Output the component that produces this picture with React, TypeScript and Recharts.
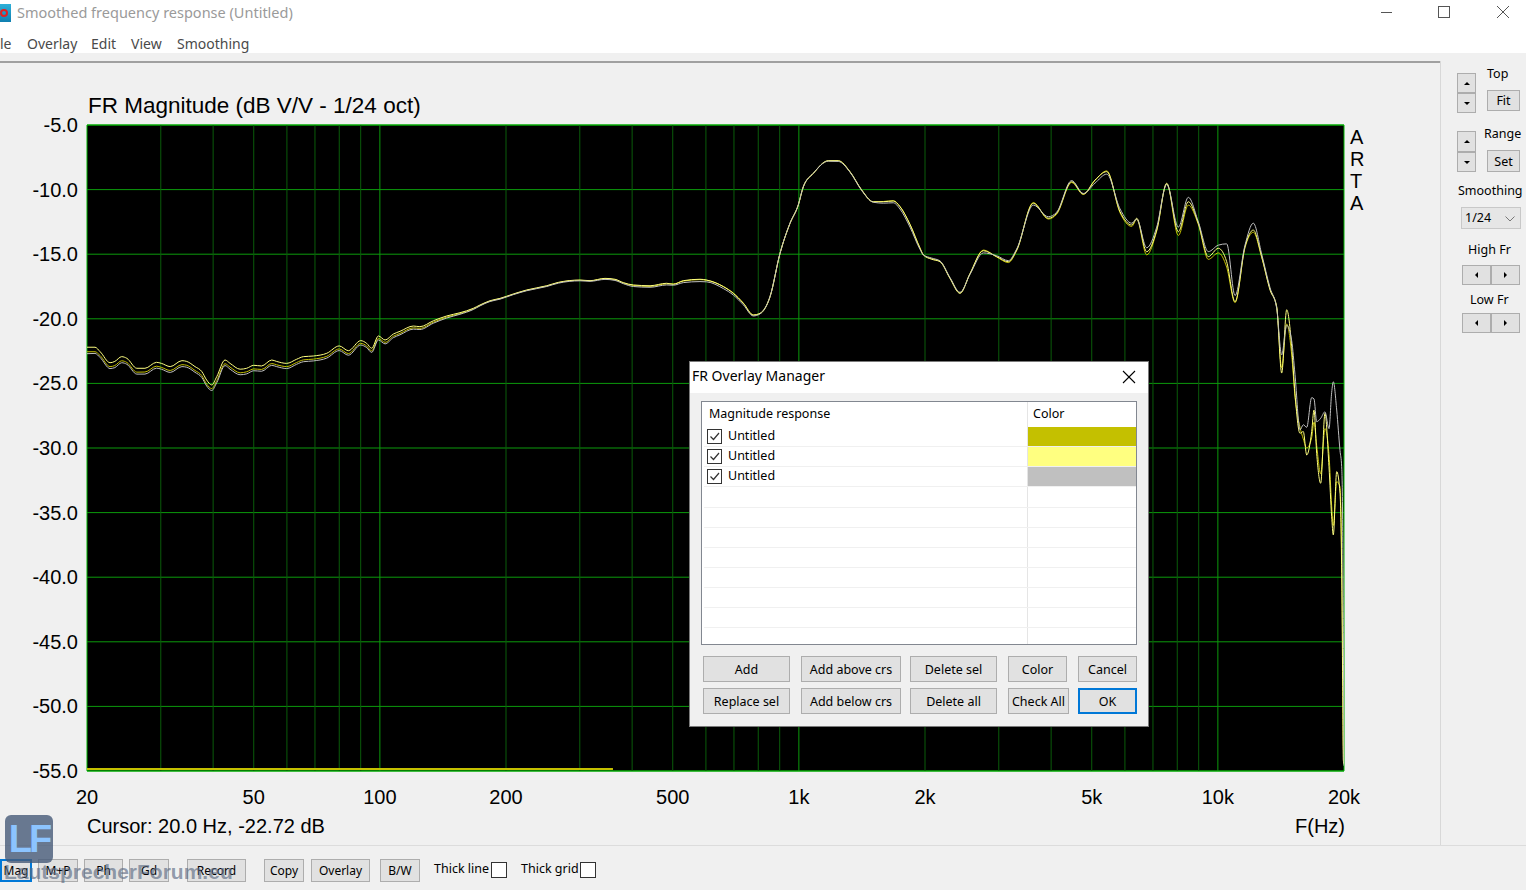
import React from "react";
import {
  LineChart,
  Line,
  XAxis,
  YAxis,
  CartesianGrid,
  ReferenceLine,
  ReferenceArea,
} from "recharts";

// frequencies (Hz)
const freqs = [
  20, 20.9, 21.5, 22.7, 23.3, 24.2, 24.9, 26.3, 27.5, 29.3, 30.1, 31.6, 33.7,
  34.6, 36.2, 37.6, 38.6, 39.7, 40.8, 42.7, 43.9, 46.4, 48.1, 50, 52.2, 55.2,
  56.7, 59.9, 63.3, 65.7, 69.4, 74.7, 80, 84.1, 90, 93, 95.6, 99.2, 102.9,
  107.7, 111.7, 120.2, 124.6, 134.2, 144.4, 155.3, 167.1, 173.4, 183.2, 193.5,
  208.2, 224, 250.2, 266.7, 300.4, 317.4, 344.6, 364, 381, 402.6, 441.4, 483.6,
  501.6, 530, 580.8, 602.6, 660.4, 697.4, 737, 778.6, 807.8, 853.2, 901.6,
  952.4, 996.8, 1024.6, 1082.6, 1175.4, 1242, 1324.4, 1412.6, 1505.4, 1590.4,
  1680, 1742.8, 1841.6, 1945.6, 1981.6, 2075, 2172, 2294, 2424, 2562, 2756,
  2966, 3162, 3310, 3628, 3938, 4124, 4478, 4774, 5090, 5430, 5842, 6228, 6402,
  6764, 7146, 7550, 8048, 8502, 8982, 9490, 10024, 10496, 10990, 11608, 12150,
  12724, 13320, 13816, 14200, 14597, 15004, 15277, 15704, 15992, 16294, 16746,
  16960, 17212, 17596, 18014, 18416, 18690, 18858, 19214, 19566, 19748, 19858,
  19925, 20000,
];

// overlay 1 (olive)
const oliveTrace = [
  -22.55, -22.55, -22.85, -23.7, -23.62, -23.25, -23.38, -24.13, -24.12, -23.67,
  -23.76, -24.0, -23.55, -23.6, -24.0, -24.4, -25.05, -25.4, -24.78, -23.48,
  -23.74, -24.18, -24.1, -23.88, -23.92, -23.46, -23.56, -23.7, -23.38, -23.18,
  -23.12, -22.9, -22.33, -22.69, -21.9, -22.1, -22.48, -21.52, -21.82, -21.35,
  -21.13, -20.7, -20.74, -20.26, -19.87, -19.6, -19.24, -18.97, -18.63, -18.45,
  -18.1, -17.8, -17.47, -17.2, -17.02, -17.06, -16.9, -16.98, -17.23, -17.42,
  -17.5, -17.3, -17.3, -17.08, -16.97, -17.02, -17.5, -18.0, -18.78, -19.7,
  -19.6, -18.32, -14.95, -12.63, -11.2, -9.8, -8.76, -7.78, -7.78, -8.63,
  -10.05, -10.95, -10.92, -10.86, -11.3, -12.68, -14.5, -15.03, -15.36, -15.55,
  -16.84, -18.0, -16.52, -14.68, -15.22, -15.65, -14.72, -11.0, -12.28, -11.9,
  -9.45, -10.38, -9.3, -8.55, -11.8, -12.85, -12.3, -15.05, -13.2, -9.55,
  -13.55, -11.2, -12.7, -15.4, -14.9, -16.0, -18.75, -14.5, -13.3, -15.25,
  -17.7, -19.1, -23.8, -20.4, -22.8, -26.0, -28.4, -29.3, -30.0, -29.2, -28.0,
  -29.8, -32.0, -28.5, -30.5, -34.5, -36.0, -32.6, -33.0, -38.5, -46.0, -53.0,
  -54.2,
];

// overlay 2 (light yellow)
const lightTrace = [
  -22.2, -22.2, -22.55, -23.4, -23.3, -22.93, -23.06, -23.83, -23.83, -23.37,
  -23.45, -23.7, -23.24, -23.3, -23.7, -24.09, -24.74, -25.12, -24.48, -23.19,
  -23.45, -23.9, -23.83, -23.6, -23.65, -23.19, -23.3, -23.45, -23.13, -22.93,
  -22.88, -22.67, -22.1, -22.47, -21.69, -21.9, -22.28, -21.33, -21.64, -21.18,
  -20.97, -20.56, -20.61, -20.15, -19.78, -19.53, -19.19, -18.93, -18.6, -18.42,
  -18.08, -17.77, -17.44, -17.18, -17.0, -17.05, -16.87, -16.94, -17.2, -17.38,
  -17.44, -17.25, -17.33, -17.05, -16.94, -17.0, -17.51, -18.03, -18.8, -19.71,
  -19.57, -18.29, -14.93, -12.61, -11.19, -9.78, -8.74, -7.76, -7.76, -8.61,
  -10.03, -10.94, -10.94, -10.88, -11.32, -12.7, -14.54, -15.06, -15.39,
  -15.58, -16.87, -18.03, -16.48, -14.73, -15.19, -15.58, -14.67, -11.06,
  -12.22, -11.83, -9.39, -10.34, -9.26, -8.61, -11.71, -12.74, -12.22, -14.81,
  -13.13, -9.51, -13.26, -10.94, -12.61, -15.19, -14.54, -15.58, -18.68,
  -14.42, -13.13, -15.19, -17.77, -19.06, -24.2, -19.3, -22.16, -25.8, -28.86,
  -28.73, -30.54, -28.73, -27.06, -30.41, -32.73, -27.32, -31.45, -35.32,
  -36.73, -31.83, -33.5, -39.7, -48.47, -54.15, -54.5,
];

// overlay 3 (grey)
const grayTrace = [
  -22.7, -22.68, -23.0, -23.85, -23.78, -23.4, -23.52, -24.28, -24.28, -23.82,
  -23.9, -24.15, -23.7, -23.75, -24.14, -24.55, -25.2, -25.55, -24.95, -23.62,
  -23.9, -24.33, -24.26, -24.02, -24.06, -23.6, -23.7, -23.85, -23.52, -23.32,
  -23.26, -23.04, -22.46, -22.82, -22.03, -22.23, -22.6, -21.64, -21.94, -21.46,
  -21.24, -20.8, -20.83, -20.34, -19.94, -19.65, -19.28, -19.0, -18.66, -18.48,
  -18.13, -17.83, -17.5, -17.24, -17.06, -17.1, -16.95, -17.03, -17.28, -17.5,
  -17.56, -17.38, -17.4, -17.2, -17.12, -17.14, -17.66, -18.16, -18.92, -19.78,
  -19.62, -18.3, -14.93, -12.6, -11.18, -9.78, -8.74, -7.8, -7.82, -8.65,
  -10.08, -10.98, -11.05, -11.02, -11.5, -12.9, -14.62, -15.05, -15.3, -15.52,
  -16.8, -17.95, -16.55, -14.9, -15.12, -15.5, -14.6, -11.2, -12.1, -11.75,
  -9.3, -10.3, -9.5, -8.8, -11.5, -12.6, -12.3, -14.5, -12.9, -9.6, -12.9,
  -10.6, -12.5, -14.8, -14.3, -14.2, -18.2, -14.3, -12.6, -15.0, -17.6, -19.2,
  -22.8, -20.5, -21.7, -24.3, -28.6, -28.2, -28.4, -26.1, -26.2, -27.96, -27.7,
  -27.2, -28.5, -25.7, -24.87, -27.06, -30.2, -31.45, -36.1, -44.3, -54.6,
];

// flat olive segment resting on the bottom of the plot
const floorFreqs = [20, 360];
const floorLevels = [-54.85, -54.85];

const xTicks = [20, 50, 100, 200, 500, 1000, 2000, 5000, 10000, 20000];
const xTickLabels = ["20", "50", "100", "200", "500", "1k", "2k", "5k", "10k", "20k"];
const yTicks = [-55, -50, -45, -40, -35, -30, -25, -20, -15, -10, -5];
const minorGrid = [
  30, 40, 50, 60, 70, 80, 90, 200, 300, 400, 500, 600, 700, 800, 900, 2000,
  3000, 4000, 5000, 6000, 7000, 8000, 9000,
];
const majorGrid = [100, 1000, 10000];

const overlayNames = ["Untitled", "Untitled", "Untitled"];
const overlayColors = ["#c4c000", "#ffff80", "#c0c0c0"];

const data = freqs.map((f, i) => ({
  f,
  olive: oliveTrace[i],
  light: lightTrace[i],
  gray: grayTrace[i],
}));
const floorData = floorFreqs.map((f, i) => ({ f, floor: floorLevels[i] }));

const ui = '"Noto Sans", "Open Sans", sans-serif';
const arial = '"Liberation Sans", Arial, sans-serif';

const XTick = (props: any) => {
  const { x, y, payload } = props;
  const idx = xTicks.indexOf(payload.value);
  return (
    <text x={x} y={y + 33} textAnchor="middle" fontFamily={arial} fontSize={20} fill="#000">
      {xTickLabels[idx]}
    </text>
  );
};

const YTick = (props: any) => {
  const { x, y, payload } = props;
  return (
    <text x={x - 9} y={y + 7} textAnchor="end" fontFamily={arial} fontSize={20} fill="#000">
      {Number(payload.value).toFixed(1)}
    </text>
  );
};

const Txt = ({ x, y, size = 13, color = "#000", font = ui, children }: any) => (
  <div
    style={{
      position: "absolute",
      left: x,
      top: y,
      fontSize: size,
      color,
      fontFamily: font,
      lineHeight: 1,
      whiteSpace: "nowrap",
    }}
  >
    {children}
  </div>
);

const Btn = ({ x, y, w, h, label, focus, size = 12.5 }: any) => (
  <div
    style={{
      position: "absolute",
      left: x,
      top: y,
      width: w,
      height: h,
      boxSizing: "border-box",
      border: focus ? "2px solid #0078d7" : "1px solid #adadad",
      background: "#e1e1e1",
      display: "flex",
      alignItems: "center",
      justifyContent: "center",
      fontFamily: ui,
      fontSize: size,
      color: "#000",
      whiteSpace: "nowrap",
    }}
  >
    {label}
  </div>
);

// small triangle glyph used on the spin buttons
const Tri = ({ dir }: { dir: "up" | "down" | "left" | "right" }) => {
  const s = 3.5;
  const st: any = { width: 0, height: 0 };
  if (dir === "up") Object.assign(st, { borderLeft: `${s}px solid transparent`, borderRight: `${s}px solid transparent`, borderBottom: `${s}px solid #000` });
  if (dir === "down") Object.assign(st, { borderLeft: `${s}px solid transparent`, borderRight: `${s}px solid transparent`, borderTop: `${s}px solid #000` });
  if (dir === "left") Object.assign(st, { borderTop: `${s}px solid transparent`, borderBottom: `${s}px solid transparent`, borderRight: `${s}px solid #000` });
  if (dir === "right") Object.assign(st, { borderTop: `${s}px solid transparent`, borderBottom: `${s}px solid transparent`, borderLeft: `${s}px solid #000` });
  return <div style={st} />;
};

const Check = ({ x, y }: any) => (
  <div
    style={{
      position: "absolute",
      left: x,
      top: y,
      width: 15,
      height: 15,
      boxSizing: "border-box",
      border: "1px solid #333",
      background: "#fff",
    }}
  >
    <svg width={13} height={13} style={{ position: "absolute", left: 0, top: 0 }}>
      <polyline points="2.5,6.5 5.5,9.5 11,3" fill="none" stroke="#333" strokeWidth={1.2} />
    </svg>
  </div>
);

const FrChart = () => (
  <div style={{ position: "absolute", left: 0, top: 100 }}>
    <LineChart
      width={1440}
      height={720}
      data={data}
      margin={{ top: 25, right: 96, left: 0, bottom: 0 }}
    >
      <CartesianGrid vertical={false} stroke="#0c9a0c" fill="#000" fillOpacity={1} />
      {minorGrid.map((f) => (
        <ReferenceLine key={f} x={f} stroke="#0a5c0a" strokeWidth={1} />
      ))}
      {majorGrid.map((f) => (
        <ReferenceLine key={f} x={f} stroke="#0c9a0c" strokeWidth={1} />
      ))}
      <XAxis
        dataKey="f"
        type="number"
        scale="log"
        domain={[20, 20000]}
        ticks={xTicks}
        allowDataOverflow
        height={49}
        axisLine={false}
        tickLine={false}
        tickSize={0}
        tickMargin={0}
        tick={<XTick />}
        interval={0}
      />
      <YAxis
        type="number"
        domain={[-55, -5]}
        ticks={yTicks}
        allowDataOverflow
        width={87}
        axisLine={false}
        tickLine={false}
        tickSize={0}
        tickMargin={0}
        tick={<YTick />}
        interval={0}
      />
      <Line
        data={floorData}
        dataKey="floor"
        stroke={overlayColors[0]}
        strokeWidth={2}
        dot={false}
        activeDot={false}
        type="linear"
        isAnimationActive={false}
      />
      <Line dataKey="olive" stroke={overlayColors[0]} strokeWidth={1} dot={false} activeDot={false} type="monotone" isAnimationActive={false} />
      <Line dataKey="light" stroke={overlayColors[1]} strokeWidth={1} dot={false} activeDot={false} type="monotone" isAnimationActive={false} />
      <Line dataKey="gray" stroke={overlayColors[2]} strokeWidth={1} dot={false} activeDot={false} type="monotone" isAnimationActive={false} />
      <ReferenceArea x1={20} x2={20000} y1={-55} y2={-5} fill="none" stroke="#00b400" strokeWidth={1} ifOverflow="visible" />
    </LineChart>
  </div>
);

const OverlayDialog = () => {
  // separators of the empty list rows (page y)
  const emptyRows = [506, 526, 546, 566, 586, 606, 626];
  return (
    <div
      style={{
        position: "absolute",
        left: 689,
        top: 361,
        width: 460,
        height: 366,
        boxSizing: "border-box",
        border: "1px solid #7a7a7a",
        background: "#f0f0f0",
        zIndex: 10,
      }}
    >
      <div style={{ position: "absolute", left: 0, top: 0, width: 458, height: 31, background: "#fff" }} />
      <Txt x={2} y={7} size={14}>FR Overlay Manager</Txt>
      <svg width={14} height={14} style={{ position: "absolute", left: 432, top: 8 }}>
        <line x1={1} y1={1} x2={13} y2={13} stroke="#000" strokeWidth={1.1} />
        <line x1={13} y1={1} x2={1} y2={13} stroke="#000" strokeWidth={1.1} />
      </svg>
      {/* list box */}
      <div
        style={{
          position: "absolute",
          left: 11,
          top: 39,
          width: 436,
          height: 244,
          boxSizing: "border-box",
          border: "1px solid #828790",
          background: "#fff",
          overflow: "hidden",
        }}
      >
        <div style={{ position: "absolute", left: 325, top: 0, width: 1, height: 242, background: "#e5e5e5" }} />
        <Txt x={7} y={6} size={12.5}>Magnitude response</Txt>
        <Txt x={331} y={6} size={12.5}>Color</Txt>
        {overlayNames.map((n, i) => (
          <React.Fragment key={i}>
            <Check x={5} y={27 + i * 20} />
            <Txt x={26} y={28 + i * 20} size={12.5}>{n}</Txt>
            <div style={{ position: "absolute", left: 326, top: 25 + i * 20, width: 108, height: 19, background: overlayColors[i] }} />
            <div style={{ position: "absolute", left: 2, top: 44 + i * 20, width: 432, height: 1, background: "#f0f0f0" }} />
          </React.Fragment>
        ))}
        {emptyRows.map((r) => (
          <div key={r} style={{ position: "absolute", left: 2, top: r - 401, width: 432, height: 1, background: "#f0f0f0" }} />
        ))}
      </div>
      <Btn x={13} y={294} w={87} h={26} label="Add" />
      <Btn x={111} y={294} w={100} h={26} label="Add above crs" />
      <Btn x={220} y={294} w={87} h={26} label="Delete sel" />
      <Btn x={318} y={294} w={59} h={26} label="Color" />
      <Btn x={388} y={294} w={59} h={26} label="Cancel" />
      <Btn x={13} y={326} w={87} h={26} label="Replace sel" />
      <Btn x={111} y={326} w={100} h={26} label="Add below crs" />
      <Btn x={220} y={326} w={87} h={26} label="Delete all" />
      <Btn x={318} y={326} w={61} h={26} label="Check All" />
      <Btn x={388} y={326} w={59} h={26} label="OK" focus />
    </div>
  );
};

const SidePanel = () => (
  <>
    <div style={{ position: "absolute", left: 1457, top: 73, width: 19, height: 40 }}>
      <Btn x={0} y={0} w={19} h={20} label={<Tri dir="up" />} />
      <Btn x={0} y={20} w={19} h={20} label={<Tri dir="down" />} />
    </div>
    <Txt x={1487} y={68} size={12.5}>Top</Txt>
    <Btn x={1487} y={90} w={33} h={21} label="Fit" />
    <div style={{ position: "absolute", left: 1457, top: 131, width: 19, height: 41 }}>
      <Btn x={0} y={0} w={19} h={21} label={<Tri dir="up" />} />
      <Btn x={0} y={21} w={19} h={20} label={<Tri dir="down" />} />
    </div>
    <Txt x={1484} y={128} size={12.5}>Range</Txt>
    <Btn x={1487} y={150} w={33} h={22} label="Set" />
    <Txt x={1458} y={185} size={12.5}>Smoothing</Txt>
    <div
      style={{
        position: "absolute",
        left: 1461,
        top: 207,
        width: 60,
        height: 22,
        boxSizing: "border-box",
        border: "1px solid #c8c8c8",
        background: "#e6e6e6",
      }}
    >
      <Txt x={3} y={4} size={12.5}>1/24</Txt>
      <svg width={10} height={6} style={{ position: "absolute", left: 43, top: 8 }}>
        <polyline points="0.5,0.5 5,5 9.5,0.5" fill="none" stroke="#777" strokeWidth={1} />
      </svg>
    </div>
    <Txt x={1468} y={244} size={12.5}>High Fr</Txt>
    <Btn x={1462} y={265} w={29} h={20} label={<Tri dir="left" />} />
    <Btn x={1491} y={265} w={29} h={20} label={<Tri dir="right" />} />
    <Txt x={1470} y={294} size={12.5}>Low Fr</Txt>
    <Btn x={1462} y={313} w={29} h={20} label={<Tri dir="left" />} />
    <Btn x={1491} y={313} w={29} h={20} label={<Tri dir="right" />} />
  </>
);

const BottomBar = () => (
  <>
    <div style={{ position: "absolute", left: 0, top: 845, width: 1526, height: 1, background: "#dcdcdc" }} />
    <Btn x={0} y={859} w={32} h={23} label="Mag" focus size={12} />
    <Btn x={38} y={859} w={40} h={23} label="M+P" size={12} />
    <Btn x={84} y={859} w={39} h={23} label="Ph" size={12} />
    <Btn x={129} y={859} w={40} h={23} label="Gd" size={12} />
    <Btn x={187} y={859} w={59} h={23} label="Record" size={12} />
    <Btn x={264} y={859} w={40} h={23} label="Copy" size={12} />
    <Btn x={311} y={859} w={59} h={23} label="Overlay" size={12} />
    <Btn x={380} y={859} w={40} h={23} label="B/W" size={12} />
    <Txt x={434} y={863} size={12.5}>Thick line</Txt>
    <div style={{ position: "absolute", left: 491, top: 862, width: 16, height: 16, boxSizing: "border-box", border: "1px solid #333", background: "#fff" }} />
    <Txt x={521} y={863} size={12.5}>Thick grid</Txt>
    <div style={{ position: "absolute", left: 580, top: 862, width: 16, height: 16, boxSizing: "border-box", border: "1px solid #333", background: "#fff" }} />
    {/* forum watermark, lying over the buttons as in the screenshot */}
    <div
      style={{
        position: "absolute",
        left: 5,
        top: 815,
        width: 48,
        height: 48,
        borderRadius: 6,
        background: "rgba(70,90,120,0.8)",
        color: "#8cc4ff",
        fontFamily: arial,
        fontWeight: 700,
        fontSize: 38,
        lineHeight: "48px",
        textAlign: "center",
        letterSpacing: -3,
      }}
    >
      LF
    </div>
    <div
      style={{
        position: "absolute",
        left: 4,
        top: 860,
        fontFamily: arial,
        fontWeight: 700,
        fontSize: 21,
        color: "rgba(90,105,130,0.65)",
        whiteSpace: "nowrap",
      }}
    >
      LautsprecherForum.eu
    </div>
  </>
);

const App = () => (
  <div
    style={{
      position: "absolute",
      left: 0,
      top: 0,
      width: 1526,
      height: 890,
      overflow: "hidden",
      background: "#f0f0f0",
    }}
  >
    {/* title bar + menu */}
    <div style={{ position: "absolute", left: 0, top: 0, width: 1526, height: 53, background: "#fff" }} />
    <div style={{ position: "absolute", left: 0, top: 4, width: 11, height: 18, background: "linear-gradient(#2fb0d8,#0f7fb0)" }}>
      <div style={{ position: "absolute", left: 0, top: 5, width: 8, height: 8, borderRadius: 4, border: "2px solid #e02020", boxSizing: "border-box" }} />
    </div>
    <Txt x={17} y={5} size={14.5} color="#9a9a9a">Smoothed frequency response (Untitled)</Txt>
    <div style={{ position: "absolute", left: 1381, top: 12, width: 11, height: 1, background: "#555" }} />
    <div style={{ position: "absolute", left: 1438, top: 6, width: 12, height: 12, boxSizing: "border-box", border: "1px solid #555" }} />
    <svg width={14} height={14} style={{ position: "absolute", left: 1496, top: 5 }}>
      <line x1={1} y1={1} x2={13} y2={13} stroke="#555" strokeWidth={1} />
      <line x1={13} y1={1} x2={1} y2={13} stroke="#555" strokeWidth={1} />
    </svg>
    <Txt x={0} y={37} size={14} color="#4a4a4a">le</Txt>
    <Txt x={27} y={37} size={14} color="#4a4a4a">Overlay</Txt>
    <Txt x={91} y={37} size={14} color="#4a4a4a">Edit</Txt>
    <Txt x={131} y={37} size={14} color="#4a4a4a">View</Txt>
    <Txt x={177} y={37} size={14} color="#4a4a4a">Smoothing</Txt>

    {/* chart frame */}
    <div style={{ position: "absolute", left: 0, top: 61, width: 1441, height: 2, background: "#a0a0a0" }} />
    <div style={{ position: "absolute", left: 1440, top: 61, width: 1, height: 784, background: "#d8d8d8" }} />

    <Txt x={88} y={95} size={22.5} font={arial}>FR Magnitude (dB V/V - 1/24 oct)</Txt>
    <FrChart />
    {["A", "R", "T", "A"].map((c, i) => (
      <Txt key={i} x={1350} y={127 + i * 22} size={20} font={arial}>{c}</Txt>
    ))}
    <Txt x={87} y={816} size={20} font={arial}>Cursor: 20.0 Hz, -22.72 dB</Txt>
    <Txt x={1295} y={816} size={20} font={arial}>F(Hz)</Txt>

    <SidePanel />
    <BottomBar />
    <OverlayDialog />
  </div>
);

export default App;
